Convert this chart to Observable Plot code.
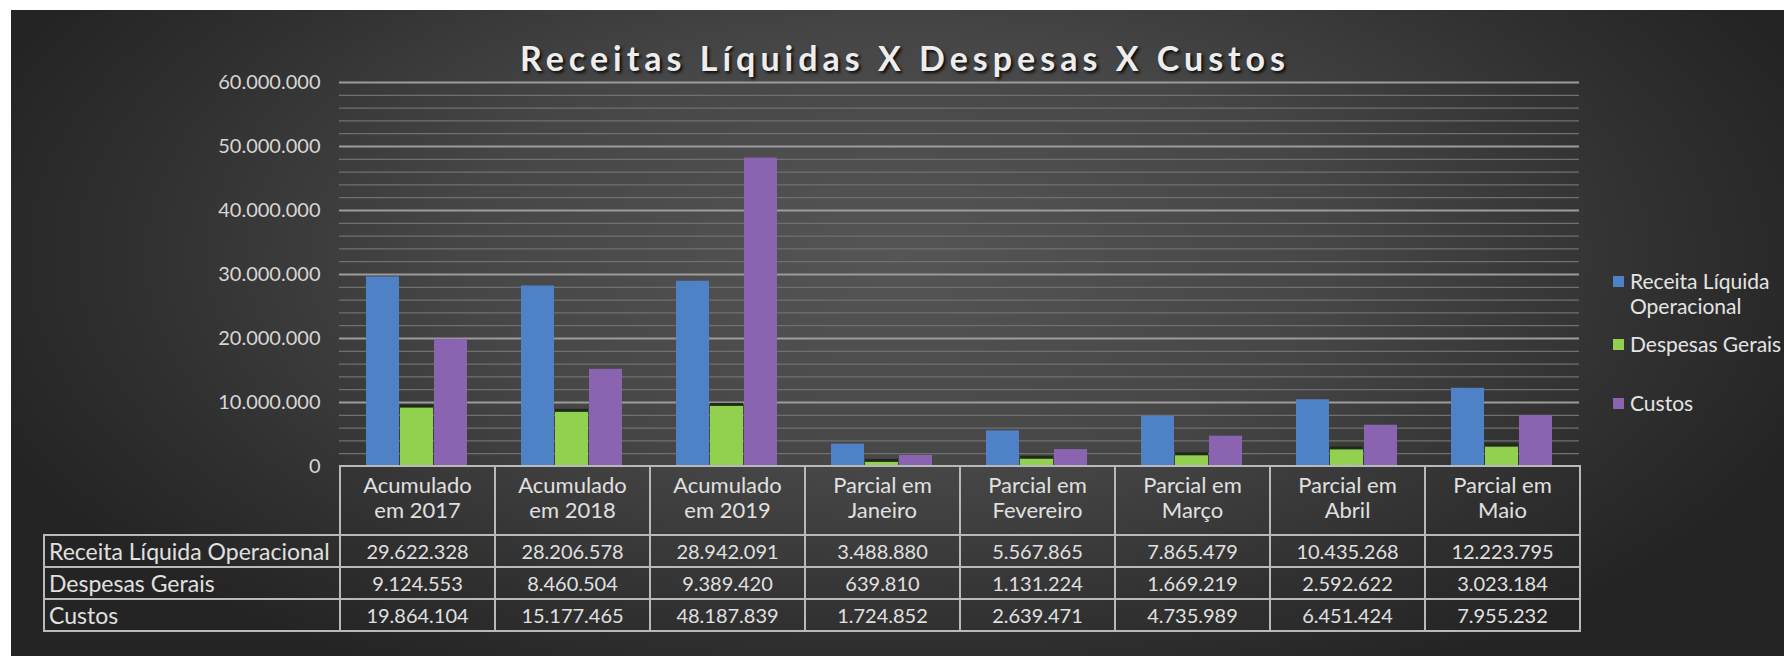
<!DOCTYPE html>
<html><head><meta charset="utf-8">
<script src="https://cdn.jsdelivr.net/npm/d3@7"></script>
<script src="https://cdn.jsdelivr.net/npm/@observablehq/plot@0.6"></script>
<style>
html,body{margin:0;padding:0;background:#fff;}
#wrap{position:relative;width:1784px;height:656px;overflow:hidden;background:#fff;font-family:Lato,sans-serif;}
#bg{position:absolute;left:11px;top:10px;right:0;bottom:0;
 background:radial-gradient(ellipse 55% 75% at 50% 38%, #555 0%, #464646 45%, #2f2f2f 80%, #242424 100%);}
#title{position:absolute;left:405px;width:1000px;top:38px;text-align:center;font:bold 34px Lato,sans-serif;letter-spacing:5px;color:#ededed;text-shadow:2px 2px 3px rgba(0,0,0,.85);line-height:40px;}
#chart{position:absolute;left:0;top:0;}
#table{position:absolute;left:43px;top:465px;border-collapse:collapse;table-layout:fixed;font-family:Lato,sans-serif;color:#e0e0e0;}
#table td{border:2px solid #b9b9b9;padding:0;text-align:center;font-size:20px;line-height:24px;}
#table td.lab{text-align:left;padding-left:4px;font-size:23px;}
#table tr.head td{font-size:22px;line-height:25px;padding-bottom:7px;}
#table tr.head td.blank{border-left:none;border-top:none;}
.leg{position:absolute;left:1613px;font:21px Lato,sans-serif;color:#e4e4e4;white-space:nowrap;}
.leg .sw{position:absolute;left:0;width:11px;height:11px;}
.leg .tx{position:absolute;left:17px;line-height:25px;}
</style></head>
<body><div id="wrap"><div id="bg"></div><div id="chart"></div><div id="title">Receitas Líquidas X Despesas X Custos</div></div>
<script>
const categories = ["Acumulado em 2017","Acumulado em 2018","Acumulado em 2019","Parcial em Janeiro","Parcial em Fevereiro","Parcial em Março","Parcial em Abril","Parcial em Maio"];
const categoryLines = [["Acumulado","em 2017"],["Acumulado","em 2018"],["Acumulado","em 2019"],["Parcial em","Janeiro"],["Parcial em","Fevereiro"],["Parcial em","Março"],["Parcial em","Abril"],["Parcial em","Maio"]];
const series = ["Receita Líquida Operacional","Despesas Gerais","Custos"];
const legendLines = [["Receita Líquida","Operacional"],["Despesas Gerais"],["Custos"]];
const receita = [29622328,28206578,28942091,3488880,5567865,7865479,10435268,12223795];
const despesas = [9124553,8460504,9389420,639810,1131224,1669219,2592622,3023184];
const custos = [19864104,15177465,48187839,1724852,2639471,4735989,6451424,7955232];
const colors = ["#4f81c7","#92d050","#8a64b1"];
const yTicks = [0,10000000,20000000,30000000,40000000,50000000,60000000];
const yMinor = [2000000,4000000,6000000,8000000,12000000,14000000,16000000,18000000,22000000,24000000,26000000,28000000,32000000,34000000,36000000,38000000,42000000,44000000,46000000,48000000,52000000,54000000,56000000,58000000];

const valuesBySeries = [receita, despesas, custos];
const data = [];
categories.forEach((c,i)=>series.forEach((s,j)=>data.push({category:c, series:s, value:valuesBySeries[j][i]})));

const loc = d3.formatLocale({decimal:",", thousands:".", grouping:[3], currency:["R$",""]});
const fmt = loc.format(",d");

const plot = Plot.plot({
  width:1784, height:480,
  marginLeft:339, marginRight:205, marginTop:82, marginBottom:14,
  style:{background:"transparent", fontFamily:"Lato, sans-serif", fontSize:"20px", color:"#d6d6d6", overflow:"visible"},
  fx:{domain:categories, padding:0, axis:null, label:null},
  x:{domain:series, paddingInner:0.03, paddingOuter:0.73, axis:null},
  y:{domain:[0,60000000], axis:null},
  color:{domain:series, range:colors},
  marks:[
    Plot.ruleY(yMinor, {stroke:"#707070", strokeWidth:1.2}),
    Plot.ruleY(yTicks.slice(1), {stroke:"#9c9c9c", strokeWidth:2}),
    Plot.axisY(yTicks, {tickFormat:fmt, tickSize:0, tickPadding:19, label:null, fontSize:20, fill:"#d6d6d6"}),
    Plot.barY(data.filter(d=>d.series===series[1]), {fx:"category", x:"series", y:"value", fill:"#1f2a18", dy:-3}),
    Plot.barY(data, {fx:"category", x:"series", y:"value", fill:"series"})
  ]
});
document.getElementById("chart").appendChild(plot);

// table
const wrap = d3.select("#wrap");
const table = wrap.append("table").attr("id","table");
const cg = table.append("colgroup");
cg.append("col").style("width","296px");
categories.forEach(()=>cg.append("col").style("width","155px"));
table.style("width", (296+155*categories.length)+"px");
const head = table.append("tr").attr("class","head").style("height","69px");
head.append("td").attr("class","blank");
categoryLines.forEach(l=>head.append("td").html(l.join("<br>")));
series.forEach((s,j)=>{
  const tr = table.append("tr").style("height", "32px");
  tr.append("td").attr("class","lab").text(s);
  valuesBySeries[j].forEach(v=>tr.append("td").text(fmt(v)));
});

// legend
const legTops = [268, 331, 390];
series.forEach((s,j)=>{
  const g = wrap.append("div").attr("class","leg").style("top", legTops[j]+"px");
  g.append("div").attr("class","sw").style("top","8px").style("background", colors[j]);
  g.append("div").attr("class","tx").style("top","0px").html(legendLines[j].join("<br>"));
});
</script></body></html>
